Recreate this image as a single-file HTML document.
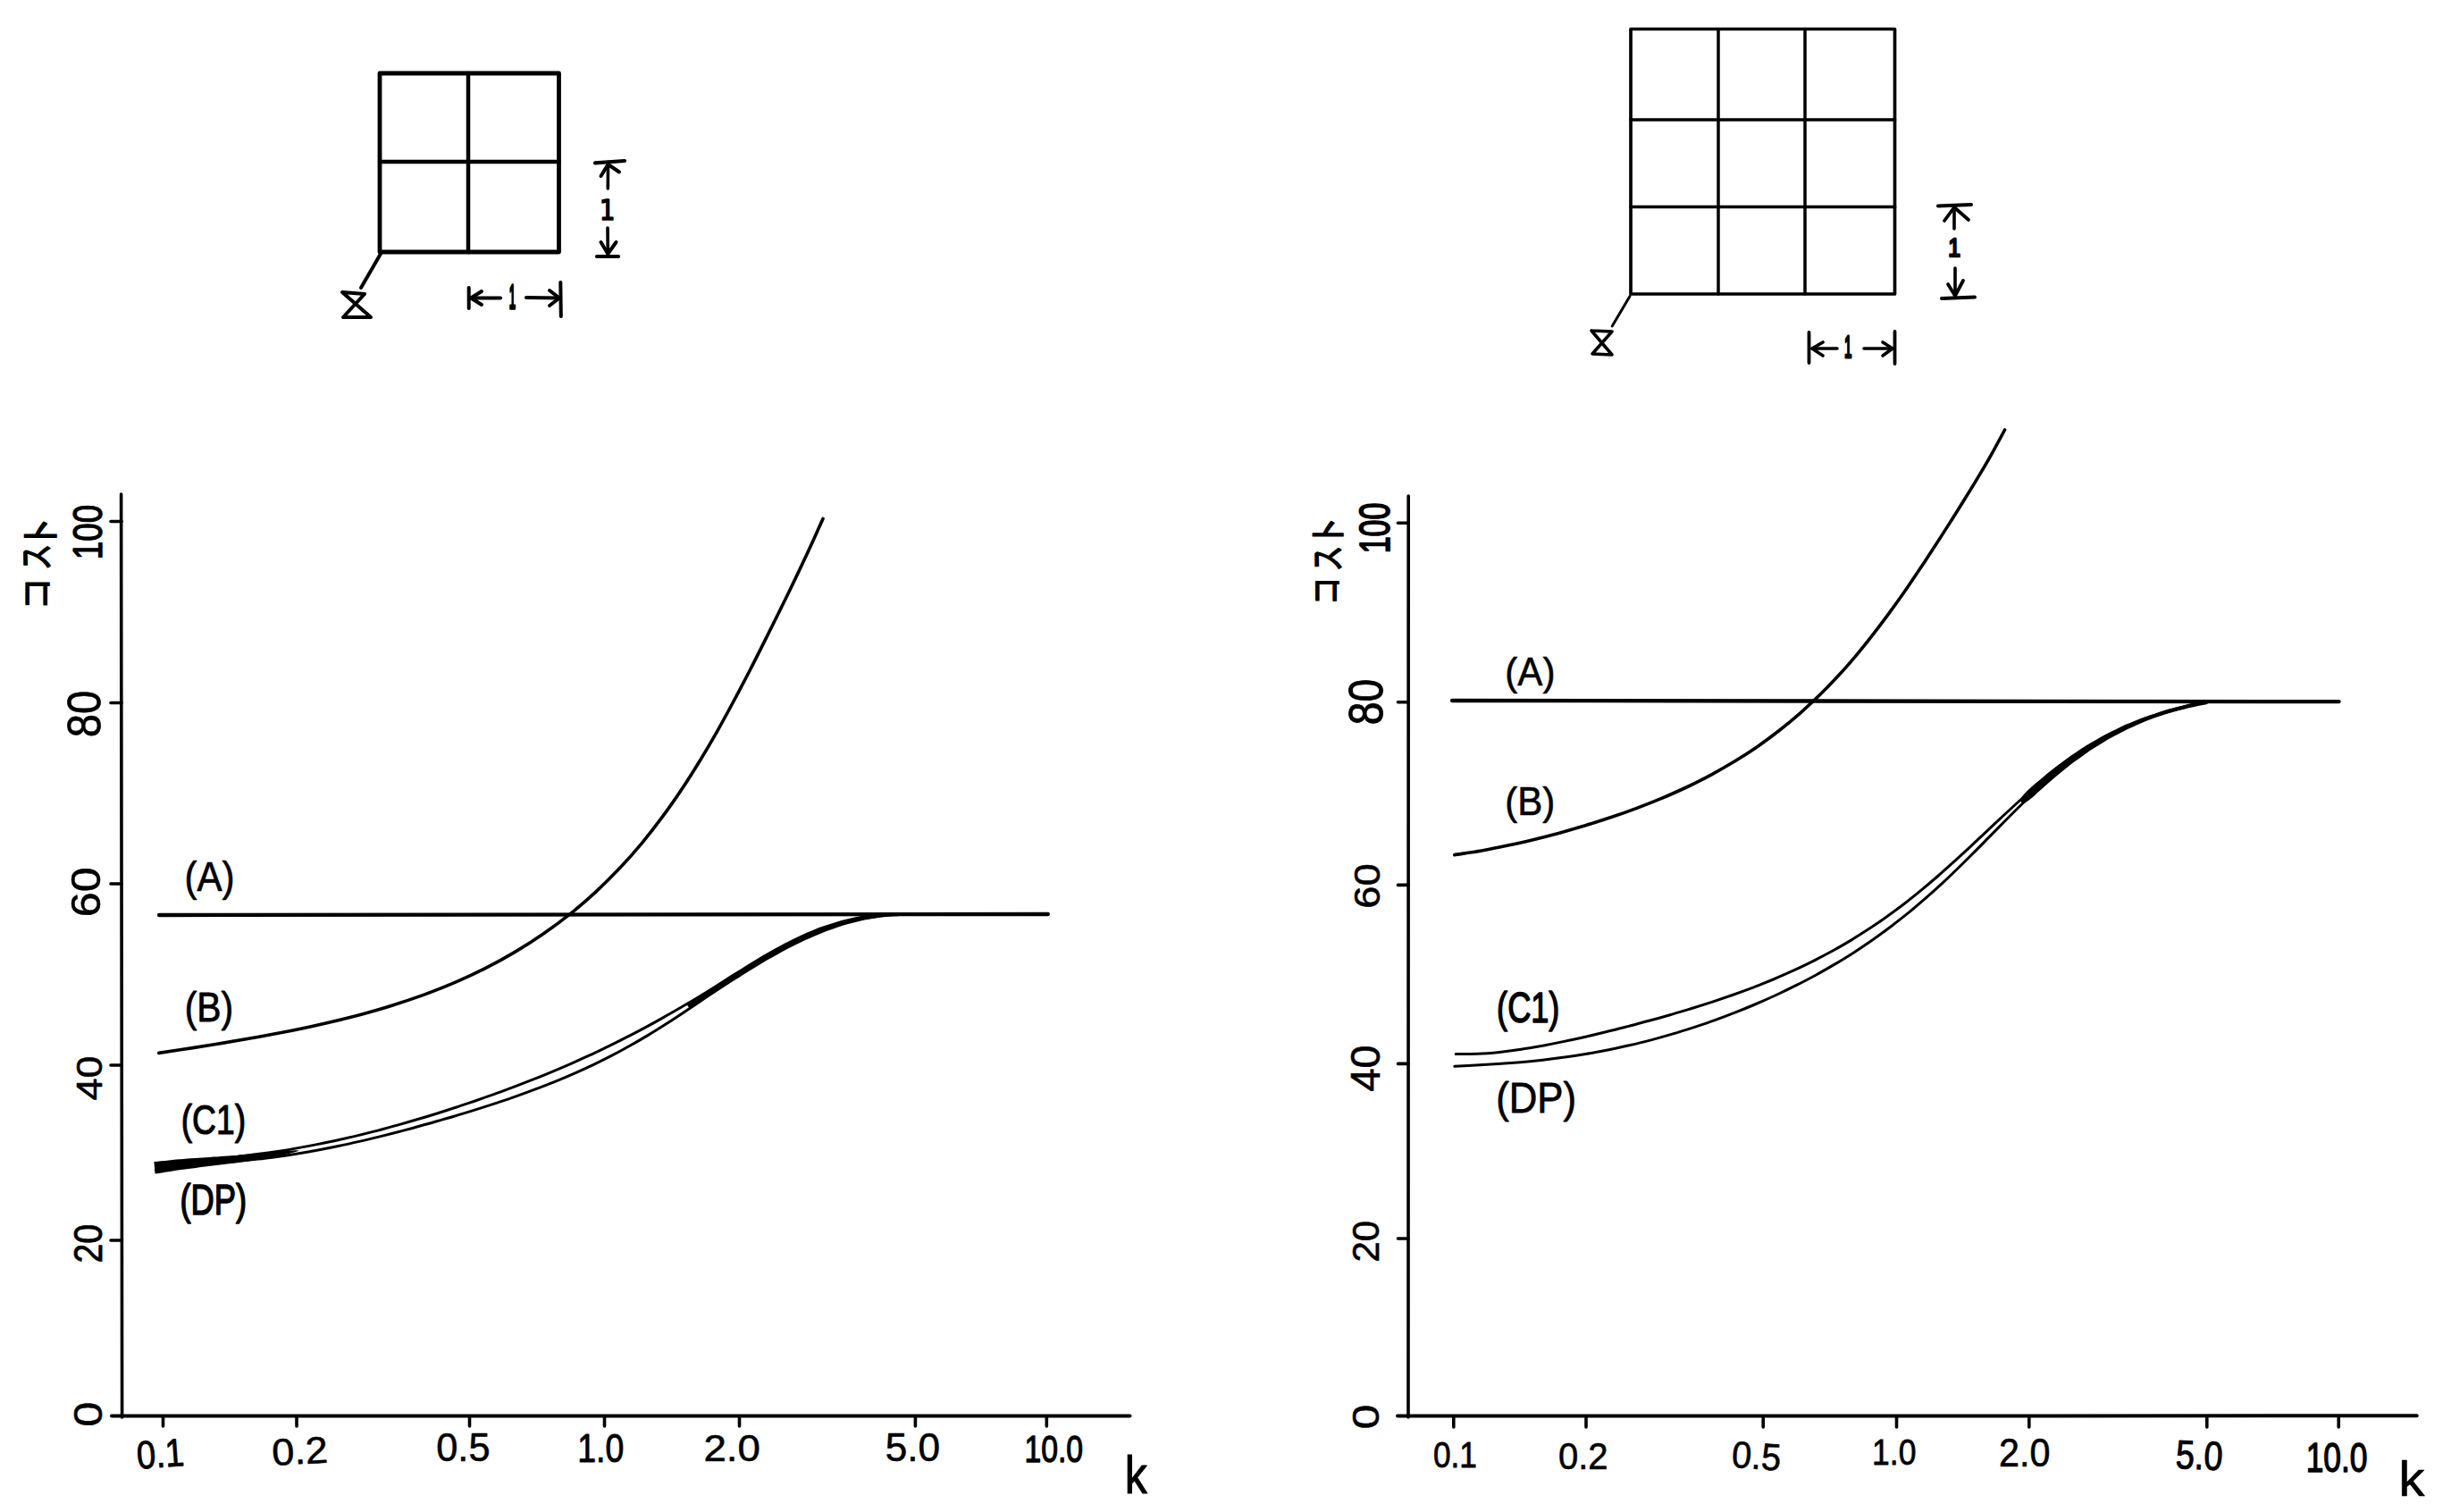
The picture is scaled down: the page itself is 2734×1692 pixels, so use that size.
<!DOCTYPE html>
<html><head><meta charset="utf-8"><title>コスト - k</title>
<style>html,body{margin:0;padding:0;background:#fff}svg{display:block}text{fill:#000}</style>
</head><body>
<svg width="2734" height="1692" viewBox="0 0 2734 1692">
<rect width="2734" height="1692" fill="#fff"/>
<g fill="none" stroke="#000" stroke-linecap="round" stroke-linejoin="round">
<path d="M425.0 82.0 H625.5 V282.0 H425.0 Z" stroke-width="4.8"/>
<path d="M524.0 82.0 L524.0 282.0" stroke-width="4.5"/>
<path d="M425.0 181.0 L625.5 181.0" stroke-width="4.5"/>
<path d="M426.0 284.0 L404.0 322.0" stroke-width="4"/>
<path d="M383.0 327.0 L408.0 329.0 L384.0 355.0 L415.0 355.0 L383.0 327.0" stroke-width="4"/>
<path d="M524.7 322.0 L524.7 345.0" stroke-width="4"/>
<path d="M627.3 316.0 L627.8 354.0" stroke-width="4"/>
<path d="M527.0 333.5 L560.0 333.5" stroke-width="4"/>
<path d="M589.0 333.0 L626.0 333.5" stroke-width="4"/>
<path d="M539.0 326.0 L527.0 333.5 L539.0 341.0" stroke-width="4"/>
<path d="M615.0 325.0 L626.0 333.5 L615.0 342.0" stroke-width="4"/>
<path d="M666.0 182.3 L699.0 180.0" stroke-width="4.2"/>
<path d="M668.0 287.0 L692.0 287.0" stroke-width="4.2"/>
<path d="M680.5 183.0 L680.3 211.0" stroke-width="3.6"/>
<path d="M680.0 255.0 L680.3 286.0" stroke-width="3.6"/>
<path d="M672.5 197.0 L680.5 184.0 L693.0 192.5" stroke-width="4"/>
<path d="M672.5 271.0 L680.3 284.0 L689.5 271.0" stroke-width="4"/>
<path d="M1825.0 32.5 H2120.5 V329.0 H1825.0 Z" stroke-width="3.7"/>
<path d="M1923.0 32.5 L1923.0 329.0" stroke-width="3.5"/>
<path d="M2020.0 32.5 L2020.0 329.0" stroke-width="3.5"/>
<path d="M1825.0 134.0 L2120.5 134.0" stroke-width="3.7"/>
<path d="M1825.0 231.5 L2120.5 231.5" stroke-width="3.7"/>
<path d="M1824.0 331.5 L1804.2 365.0" stroke-width="3"/>
<path d="M1781.0 370.0 L1804.0 371.0 L1782.0 396.0 L1804.0 397.0 L1781.0 370.0" stroke-width="3.6"/>
<path d="M2024.5 372.0 L2024.5 406.0" stroke-width="3.8"/>
<path d="M2120.5 371.0 L2120.5 407.0" stroke-width="3.8"/>
<path d="M2028.0 390.0 L2056.0 390.0" stroke-width="3.6"/>
<path d="M2086.0 390.0 L2118.0 390.0" stroke-width="3.6"/>
<path d="M2040.0 383.0 L2028.0 390.0 L2040.0 398.0" stroke-width="3.6"/>
<path d="M2107.0 383.0 L2118.0 390.0 L2107.0 398.0" stroke-width="3.6"/>
<path d="M2169.0 230.5 L2206.0 229.0" stroke-width="4"/>
<path d="M2173.0 334.0 L2210.0 332.5" stroke-width="4"/>
<path d="M2187.0 232.0 L2187.0 256.0" stroke-width="3.6"/>
<path d="M2188.0 300.0 L2188.0 332.0" stroke-width="3.6"/>
<path d="M2176.0 247.0 L2187.0 232.0 L2203.0 246.0" stroke-width="3.8"/>
<path d="M2180.0 318.0 L2188.0 331.0 L2197.0 314.0" stroke-width="3.8"/>
<path d="M135.6 553.0 L136.6 1586.0" stroke-width="3.6"/>
<path d="M125.0 1584.5 L1264.5 1584.5" stroke-width="4"/>
<path d="M124.0 583.5 L136.0 583.5" stroke-width="3.6"/>
<path d="M124.0 786.5 L136.0 786.5" stroke-width="3.6"/>
<path d="M124.0 989.0 L136.0 989.0" stroke-width="3.6"/>
<path d="M124.0 1192.0 L136.0 1192.0" stroke-width="3.6"/>
<path d="M124.0 1388.0 L136.0 1388.0" stroke-width="3.6"/>
<path d="M182.5 1585.0 L182.5 1596.0" stroke-width="3.6"/>
<path d="M332.0 1585.0 L332.0 1596.0" stroke-width="3.6"/>
<path d="M525.5 1585.0 L525.5 1596.0" stroke-width="3.6"/>
<path d="M676.5 1585.0 L676.5 1596.0" stroke-width="3.6"/>
<path d="M827.5 1585.0 L827.5 1596.0" stroke-width="3.6"/>
<path d="M1024.4 1585.0 L1024.4 1596.0" stroke-width="3.6"/>
<path d="M1171.3 1585.0 L1171.3 1596.0" stroke-width="3.6"/>
<path d="M178.0 1024.0 L1172.8 1023.0" stroke-width="4.3"/>
<path d="M177.8 1178.4 C184.1 1177.4 203.2 1174.6 215.7 1172.6 C228.2 1170.7 240.5 1168.7 252.9 1166.6 C265.2 1164.5 277.5 1162.4 289.8 1160.2 C302.1 1157.9 314.4 1155.6 326.7 1153.2 C339.0 1150.7 351.4 1148.1 363.6 1145.2 C375.9 1142.4 388.2 1139.4 400.5 1136.2 C412.7 1132.9 424.9 1129.5 437.0 1125.7 C449.2 1121.9 461.2 1117.9 473.2 1113.6 C485.1 1109.2 496.9 1104.6 508.6 1099.6 C520.2 1094.6 531.7 1089.3 543.0 1083.6 C554.3 1077.9 565.4 1071.9 576.2 1065.4 C587.1 1059.0 597.7 1052.3 608.0 1045.1 C618.3 1038.0 628.4 1030.5 638.2 1022.7 C648.0 1014.8 657.5 1006.6 666.7 998.1 C675.9 989.6 684.9 980.7 693.5 971.6 C702.1 962.4 710.4 953.0 718.5 943.3 C726.5 933.6 734.3 923.6 741.8 913.4 C749.3 903.3 756.5 892.9 763.6 882.3 C770.6 871.8 777.3 861.0 783.9 850.2 C790.5 839.4 796.9 828.4 803.2 817.3 C809.4 806.3 815.5 795.2 821.4 784.0 C827.4 772.9 833.2 761.7 839.0 750.5 C844.8 739.3 850.4 728.1 856.0 716.9 C861.7 705.6 867.2 694.4 872.7 683.2 C878.3 671.9 883.7 660.7 889.2 649.4 C894.6 638.1 900.0 626.8 905.3 615.3 C910.6 603.8 918.4 586.2 921.0 580.4" stroke-width="3.6" />
<path d="M174.4 1303.9 C178.1 1303.5 188.9 1302.2 196.3 1301.4 C203.7 1300.7 211.3 1300.0 218.9 1299.2 C226.5 1298.5 234.2 1297.8 241.8 1297.0 C249.5 1296.2 257.2 1295.4 264.9 1294.5 C272.5 1293.6 280.2 1292.7 287.9 1291.6 C295.5 1290.6 303.2 1289.5 310.8 1288.4 C318.4 1287.2 326.0 1286.0 333.5 1284.6 C341.1 1283.3 348.6 1281.9 356.1 1280.4 C363.6 1278.9 371.0 1277.4 378.4 1275.7 C385.9 1274.1 393.3 1272.4 400.6 1270.6 C408.0 1268.8 415.4 1267.0 422.7 1265.1 C430.1 1263.1 437.4 1261.2 444.7 1259.1 C452.0 1257.1 459.3 1255.0 466.6 1252.8 C473.8 1250.7 481.1 1248.5 488.3 1246.2 C495.6 1243.9 502.8 1241.6 510.1 1239.2 C517.3 1236.9 524.5 1234.4 531.7 1232.0 C538.9 1229.5 546.1 1226.9 553.3 1224.4 C560.5 1221.8 567.6 1219.1 574.8 1216.4 C581.9 1213.7 589.0 1211.0 596.1 1208.2 C603.2 1205.4 610.3 1202.5 617.3 1199.6 C624.4 1196.6 631.4 1193.6 638.4 1190.6 C645.4 1187.5 652.3 1184.4 659.2 1181.2 C666.2 1178.0 673.0 1174.7 679.9 1171.4 C686.7 1168.1 693.6 1164.7 700.3 1161.2 C707.1 1157.7 713.9 1154.2 720.6 1150.6 C727.3 1147.0 734.0 1143.4 740.6 1139.6 C747.2 1135.9 753.8 1132.2 760.4 1128.3 C767.0 1124.5 773.6 1120.7 780.1 1116.8 C786.7 1112.9 793.2 1108.9 799.8 1105.0 C806.3 1101.1 812.8 1097.1 819.4 1093.2 C825.9 1089.3 832.4 1085.3 839.0 1081.5 C845.6 1077.6 852.2 1073.8 858.8 1070.1 C865.5 1066.4 872.1 1062.7 878.9 1059.2 C885.6 1055.7 892.4 1052.3 899.3 1049.1 C906.2 1045.9 913.2 1042.8 920.2 1040.1 C927.2 1037.3 934.4 1034.8 941.6 1032.6 C948.9 1030.4 956.2 1028.4 963.6 1026.9 C971.1 1025.4 978.6 1024.2 986.3 1023.6 C993.9 1022.9 1005.6 1023.1 1009.5 1023.0" stroke-width="3" />
<path d="M174.4 1309.6 C178.0 1309.0 188.6 1307.1 196.0 1306.1 C203.3 1305.1 210.9 1304.4 218.6 1303.6 C226.2 1302.9 234.0 1302.2 241.7 1301.6 C249.5 1300.9 257.3 1300.2 265.1 1299.5 C272.9 1298.7 280.7 1297.9 288.4 1297.1 C296.2 1296.2 303.9 1295.2 311.6 1294.2 C319.2 1293.1 326.9 1292.0 334.5 1290.8 C342.1 1289.5 349.6 1288.2 357.2 1286.8 C364.7 1285.4 372.2 1283.9 379.6 1282.3 C387.1 1280.8 394.5 1279.1 401.9 1277.4 C409.4 1275.7 416.8 1273.9 424.1 1272.1 C431.5 1270.3 438.9 1268.4 446.3 1266.5 C453.6 1264.5 461.0 1262.6 468.3 1260.5 C475.7 1258.5 483.1 1256.5 490.4 1254.3 C497.7 1252.2 505.1 1250.1 512.4 1247.9 C519.8 1245.7 527.1 1243.4 534.4 1241.1 C541.7 1238.8 549.0 1236.5 556.3 1234.1 C563.6 1231.6 570.9 1229.2 578.1 1226.6 C585.4 1224.1 592.6 1221.4 599.8 1218.7 C607.0 1216.0 614.1 1213.2 621.2 1210.4 C628.3 1207.5 635.4 1204.5 642.4 1201.4 C649.4 1198.3 656.4 1195.2 663.3 1191.9 C670.2 1188.6 677.0 1185.2 683.8 1181.7 C690.6 1178.2 697.3 1174.6 703.9 1170.8 C710.6 1167.1 717.2 1163.3 723.7 1159.4 C730.3 1155.4 736.8 1151.4 743.2 1147.3 C749.7 1143.2 756.1 1139.0 762.5 1134.7 C768.8 1130.5 775.2 1126.2 781.5 1121.9 C787.8 1117.5 794.1 1113.1 800.4 1108.8 C806.8 1104.4 813.1 1100.0 819.4 1095.8 C825.8 1091.5 832.1 1087.2 838.6 1083.0 C845.0 1078.9 851.5 1074.8 858.1 1070.8 C864.6 1066.9 871.3 1063.1 878.0 1059.5 C884.7 1055.9 891.6 1052.5 898.5 1049.3 C905.4 1046.2 912.5 1043.2 919.7 1040.6 C926.8 1037.9 934.1 1035.5 941.5 1033.5 C948.8 1031.4 956.3 1029.6 963.9 1028.1 C971.4 1026.7 979.1 1025.5 986.7 1024.7 C994.3 1023.8 1005.7 1023.3 1009.5 1023.0" stroke-width="3" />
<path d="M173.6 1313.5 L177.9 1313.0 L182.2 1312.3 L186.3 1311.6 L190.5 1310.9 L194.6 1310.2 L198.6 1309.6 L202.7 1309.0 L206.8 1308.5 L211.0 1307.9 L215.1 1307.4 L219.2 1306.9 L223.3 1306.3 L227.5 1305.8 L231.6 1305.3 L235.8 1304.8 L239.9 1304.3 L244.1 1303.8 L248.2 1303.3 L252.4 1302.7 L256.5 1302.2 L260.7 1301.7 L264.8 1301.2 L269.0 1300.6 L273.1 1300.0 L277.3 1299.5 L281.4 1298.9 L285.6 1298.2 L289.7 1297.6 L293.9 1296.9 L298.0 1296.2 L302.2 1295.4 L306.3 1294.7 L310.4 1293.9 L314.6 1293.0 L318.7 1292.1 L322.8 1291.2 L326.9 1290.1 L331.0 1289.1 L335.0 1287.5 L335.0 1287.5 L330.7 1287.3 L326.5 1287.5 L322.3 1287.8 L318.1 1288.2 L313.9 1288.5 L309.7 1288.9 L305.6 1289.3 L301.4 1289.6 L297.2 1290.0 L293.0 1290.4 L288.9 1290.8 L284.7 1291.1 L280.6 1291.4 L276.4 1291.8 L272.2 1292.1 L268.1 1292.5 L263.9 1292.9 L259.8 1293.2 L255.6 1293.5 L251.5 1293.8 L247.3 1294.1 L243.2 1294.4 L239.0 1294.6 L234.8 1294.9 L230.7 1295.2 L226.5 1295.4 L222.3 1295.7 L218.2 1296.0 L214.0 1296.3 L209.8 1296.6 L205.6 1296.9 L201.5 1297.3 L197.2 1297.6 L193.0 1298.0 L188.8 1298.4 L184.6 1298.9 L180.4 1299.3 L176.4 1299.8 L172.4 1300.0 Z" fill="#000" stroke="none"/>
<path d="M771.9 1129.1 L778.0 1125.2 L784.2 1121.3 L790.4 1117.3 L796.5 1113.4 L802.7 1109.4 L808.8 1105.4 L815.0 1101.5 L821.1 1097.5 L827.3 1093.7 L833.4 1089.8 L839.5 1085.9 L845.7 1082.2 L851.8 1078.5 L857.9 1074.8 L864.0 1071.4 L870.2 1067.9 L876.3 1064.5 L882.4 1061.3 L888.5 1058.3 L894.6 1055.2 L900.7 1052.3 L906.7 1049.7 L912.9 1047.1 L919.0 1044.5 L925.0 1042.1 L931.0 1040.0 L937.1 1037.8 L943.1 1035.7 L949.2 1034.1 L955.3 1032.5 L961.3 1030.9 L967.4 1029.6 L973.4 1028.5 L979.6 1027.5 L985.6 1026.5 L991.7 1026.0 L997.8 1025.6 L1003.9 1025.2 L1010.1 1024.8 L1009.9 1021.3 L1003.8 1021.4 L997.6 1021.6 L991.4 1021.8 L985.1 1022.1 L978.9 1022.9 L972.7 1023.7 L966.5 1024.6 L960.2 1025.7 L954.0 1027.1 L947.8 1028.5 L941.5 1030.0 L935.2 1031.9 L929.0 1033.9 L922.7 1035.9 L916.4 1038.1 L910.2 1040.7 L904.0 1043.3 L897.8 1045.9 L891.5 1049.0 L885.4 1052.0 L879.2 1055.1 L872.9 1058.4 L866.8 1061.8 L860.6 1065.3 L854.4 1068.8 L848.2 1072.5 L842.0 1076.2 L835.9 1080.0 L829.7 1083.9 L823.5 1087.7 L817.3 1091.6 L811.2 1095.6 L805.0 1099.6 L798.9 1103.5 L792.7 1107.5 L786.6 1111.5 L780.4 1115.4 L774.3 1119.3 L768.1 1123.2 Z" fill="#000" stroke="none"/>
<path d="M1576.2 555.0 L1576.0 1586.0" stroke-width="3.6"/>
<path d="M1564.0 1584.6 L2704.7 1584.3" stroke-width="4"/>
<path d="M1564.5 585.2 L1576.0 585.2" stroke-width="3.6"/>
<path d="M1564.5 785.8 L1576.0 785.8" stroke-width="3.6"/>
<path d="M1564.5 990.4 L1576.0 990.4" stroke-width="3.6"/>
<path d="M1564.5 1190.4 L1576.0 1190.4" stroke-width="3.6"/>
<path d="M1564.5 1386.0 L1576.0 1386.0" stroke-width="3.6"/>
<path d="M1626.8 1585.0 L1626.8 1597.0" stroke-width="3.6"/>
<path d="M1775.0 1585.0 L1775.0 1597.0" stroke-width="3.6"/>
<path d="M1973.2 1585.0 L1973.2 1597.0" stroke-width="3.6"/>
<path d="M2122.5 1585.0 L2122.5 1597.0" stroke-width="3.6"/>
<path d="M2270.8 1585.0 L2270.8 1597.0" stroke-width="3.6"/>
<path d="M2469.8 1585.0 L2469.8 1597.0" stroke-width="3.6"/>
<path d="M2617.2 1585.0 L2617.2 1597.0" stroke-width="3.6"/>
<path d="M1625.0 784.0 L2617.5 785.2" stroke-width="4.3"/>
<path d="M1627.8 956.6 C1632.8 955.8 1648.0 953.7 1658.0 952.0 C1667.9 950.2 1677.7 948.2 1687.6 946.1 C1697.4 944.1 1707.1 941.8 1716.8 939.4 C1726.6 937.0 1736.3 934.5 1746.0 931.9 C1755.6 929.2 1765.3 926.4 1775.0 923.5 C1784.6 920.6 1794.2 917.5 1803.8 914.3 C1813.4 911.1 1823.0 907.7 1832.4 904.1 C1841.9 900.6 1851.3 896.8 1860.7 892.9 C1870.0 889.0 1879.2 884.8 1888.4 880.5 C1897.5 876.1 1906.5 871.6 1915.4 866.8 C1924.3 862.0 1933.0 857.0 1941.6 851.8 C1950.2 846.5 1958.6 841.1 1966.9 835.4 C1975.1 829.6 1983.2 823.7 1991.1 817.5 C1999.0 811.3 2006.7 804.9 2014.3 798.3 C2021.8 791.7 2029.2 784.8 2036.4 777.8 C2043.5 770.8 2050.5 763.5 2057.4 756.1 C2064.2 748.7 2070.8 741.1 2077.4 733.3 C2083.9 725.6 2090.2 717.7 2096.4 709.7 C2102.6 701.7 2108.7 693.6 2114.7 685.4 C2120.6 677.3 2126.5 669.0 2132.3 660.7 C2138.0 652.3 2143.7 644.0 2149.3 635.6 C2154.9 627.2 2160.4 618.7 2165.9 610.3 C2171.4 601.9 2176.8 593.4 2182.2 584.9 C2187.5 576.5 2192.9 568.0 2198.1 559.5 C2203.4 551.0 2208.7 542.5 2213.8 533.9 C2219.0 525.3 2224.1 516.7 2229.0 507.9 C2234.0 499.0 2241.2 485.5 2243.6 481.0" stroke-width="3.6" />
<path d="M1629.2 1179.5 C1633.3 1179.5 1645.5 1179.6 1653.6 1179.3 C1661.7 1178.9 1669.9 1178.2 1678.0 1177.4 C1686.1 1176.5 1694.2 1175.4 1702.3 1174.2 C1710.4 1173.0 1718.4 1171.6 1726.5 1170.2 C1734.5 1168.7 1742.5 1167.1 1750.5 1165.4 C1758.5 1163.8 1766.4 1162.0 1774.4 1160.2 C1782.3 1158.4 1790.2 1156.5 1798.1 1154.5 C1806.1 1152.6 1813.9 1150.6 1821.8 1148.6 C1829.7 1146.5 1837.6 1144.5 1845.4 1142.3 C1853.3 1140.2 1861.1 1138.0 1868.9 1135.7 C1876.8 1133.5 1884.6 1131.1 1892.4 1128.8 C1900.1 1126.4 1907.9 1123.9 1915.7 1121.4 C1923.4 1118.8 1931.1 1116.2 1938.8 1113.5 C1946.5 1110.8 1954.1 1108.0 1961.8 1105.1 C1969.4 1102.1 1976.9 1099.1 1984.5 1096.0 C1992.0 1092.8 1999.4 1089.6 2006.8 1086.2 C2014.2 1082.8 2021.6 1079.3 2028.9 1075.6 C2036.1 1072.0 2043.3 1068.2 2050.5 1064.3 C2057.6 1060.3 2064.6 1056.3 2071.6 1052.1 C2078.6 1047.9 2085.4 1043.5 2092.2 1039.1 C2099.0 1034.6 2105.7 1030.0 2112.3 1025.2 C2119.0 1020.5 2125.5 1015.6 2131.9 1010.7 C2138.4 1005.7 2144.7 1000.6 2151.0 995.4 C2157.3 990.2 2163.5 984.9 2169.7 979.5 C2175.8 974.2 2181.9 968.7 2188.0 963.2 C2194.0 957.7 2200.0 952.1 2206.0 946.6 C2211.9 941.0 2217.9 935.4 2223.8 929.8 C2229.8 924.2 2235.7 918.6 2241.7 913.0 C2247.6 907.5 2253.6 902.0 2259.6 896.5 C2265.7 891.1 2271.8 885.7 2277.9 880.5 C2284.1 875.2 2290.3 870.0 2296.7 865.0 C2303.1 860.0 2309.5 855.1 2316.1 850.5 C2322.7 845.8 2329.4 841.3 2336.3 837.0 C2343.2 832.7 2350.2 828.5 2357.3 824.7 C2364.5 820.8 2371.8 817.2 2379.2 813.8 C2386.7 810.4 2394.3 807.2 2402.0 804.3 C2409.7 801.5 2417.5 798.8 2425.4 796.5 C2433.2 794.1 2441.2 792.0 2449.1 790.1 C2457.0 788.2 2468.9 786.0 2472.8 785.2" stroke-width="3" />
<path d="M1627.8 1193.3 C1631.8 1193.1 1643.6 1192.5 1651.7 1192.0 C1659.8 1191.6 1668.1 1191.1 1676.4 1190.6 C1684.7 1190.0 1693.0 1189.4 1701.4 1188.7 C1709.7 1188.0 1718.1 1187.2 1726.4 1186.2 C1734.7 1185.3 1743.0 1184.3 1751.3 1183.1 C1759.6 1182.0 1767.8 1180.7 1776.0 1179.3 C1784.2 1177.9 1792.3 1176.4 1800.5 1174.8 C1808.6 1173.1 1816.6 1171.4 1824.6 1169.5 C1832.7 1167.7 1840.6 1165.7 1848.6 1163.6 C1856.5 1161.5 1864.4 1159.2 1872.3 1156.9 C1880.2 1154.6 1888.0 1152.1 1895.8 1149.6 C1903.6 1147.0 1911.4 1144.4 1919.1 1141.6 C1926.9 1138.8 1934.6 1135.9 1942.2 1132.9 C1949.9 1129.9 1957.5 1126.8 1965.1 1123.5 C1972.7 1120.3 1980.2 1117.0 1987.7 1113.5 C1995.2 1110.0 2002.7 1106.4 2010.0 1102.7 C2017.4 1099.0 2024.7 1095.1 2032.0 1091.2 C2039.3 1087.2 2046.4 1083.1 2053.6 1078.9 C2060.7 1074.7 2067.7 1070.3 2074.7 1065.9 C2081.6 1061.4 2088.5 1056.8 2095.3 1052.0 C2102.0 1047.3 2108.7 1042.4 2115.3 1037.5 C2121.9 1032.5 2128.4 1027.4 2134.9 1022.2 C2141.3 1016.9 2147.6 1011.6 2153.8 1006.2 C2160.1 1000.7 2166.2 995.2 2172.3 989.6 C2178.4 984.0 2184.4 978.3 2190.3 972.5 C2196.3 966.7 2202.1 960.9 2208.0 955.0 C2213.9 949.2 2219.6 943.3 2225.4 937.4 C2231.3 931.5 2237.0 925.6 2242.8 919.7 C2248.6 913.8 2254.4 908.0 2260.3 902.2 C2266.2 896.4 2272.1 890.7 2278.1 885.1 C2284.1 879.5 2290.1 874.0 2296.3 868.7 C2302.5 863.3 2308.8 858.1 2315.3 853.1 C2321.8 848.1 2328.4 843.3 2335.1 838.7 C2341.9 834.2 2348.8 829.8 2355.9 825.7 C2363.1 821.6 2370.3 817.8 2377.8 814.2 C2385.3 810.7 2392.9 807.4 2400.7 804.4 C2408.4 801.4 2416.4 798.8 2424.4 796.4 C2432.4 794.0 2440.6 791.9 2448.6 790.0 C2456.7 788.2 2468.8 786.0 2472.8 785.2" stroke-width="3" />
<path d="M2264.0 899.7 L2270.2 895.7 L2275.9 891.2 L2281.1 886.3 L2286.3 881.7 L2291.6 877.0 L2296.8 872.4 L2302.0 868.0 L2307.3 863.7 L2312.5 859.5 L2317.7 855.3 L2322.9 851.5 L2328.2 847.7 L2333.4 843.9 L2338.6 840.3 L2343.8 837.0 L2349.1 833.7 L2354.3 830.4 L2359.5 827.3 L2364.7 824.5 L2370.0 821.7 L2375.3 818.9 L2380.5 816.2 L2385.7 813.9 L2391.0 811.5 L2396.3 809.2 L2401.5 806.9 L2406.7 805.0 L2412.1 803.1 L2417.4 801.3 L2422.7 799.5 L2427.9 797.9 L2433.2 796.5 L2438.6 795.1 L2443.9 793.7 L2449.2 792.3 L2454.5 791.2 L2459.8 790.1 L2465.1 789.1 L2470.4 788.0 L2469.6 783.6 L2464.2 784.7 L2458.9 785.7 L2453.5 786.8 L2448.2 787.9 L2442.8 789.4 L2437.4 790.8 L2432.1 792.2 L2426.7 793.6 L2421.3 795.2 L2415.9 797.1 L2410.6 798.9 L2405.3 800.6 L2399.8 802.4 L2394.4 804.6 L2389.0 806.8 L2383.6 808.9 L2378.2 811.1 L2372.7 813.7 L2367.3 816.4 L2361.9 819.0 L2356.5 821.7 L2351.0 824.7 L2345.6 827.9 L2340.2 831.0 L2334.7 834.2 L2329.2 837.8 L2323.8 841.5 L2318.4 845.1 L2312.9 848.9 L2307.5 853.0 L2302.1 857.1 L2296.6 861.3 L2291.2 865.6 L2285.7 870.2 L2280.3 874.7 L2274.9 879.3 L2269.4 884.2 L2264.4 889.4 L2260.0 895.3 Z" fill="#000" stroke="none"/>
</g>
<g>
<text transform="translate(569.8 344.7) scale(0.356 1)" font-size="36.8" font-family='"Liberation Sans", "IPAGothic", sans-serif' stroke="#000" stroke-width="2.60" stroke-linejoin="round" vector-effect="non-scaling-stroke">1</text>
<text transform="translate(671.1 245.8) scale(0.868 1)" font-size="31.5" font-family='"DejaVu Sans", sans-serif' stroke="#000" stroke-width="1.60" stroke-linejoin="round" vector-effect="non-scaling-stroke">1</text>
<text transform="translate(2064.1 399.8) scale(0.444 1)" font-size="34.2" font-family='"Liberation Sans", "IPAGothic", sans-serif' stroke="#000" stroke-width="2.40" stroke-linejoin="round" vector-effect="non-scaling-stroke">1</text>
<text transform="translate(2180.2 286.9) scale(0.824 1)" font-size="30.1" font-family='"Liberation Sans", "IPAGothic", sans-serif' stroke="#000" stroke-width="2.20" stroke-linejoin="round" vector-effect="non-scaling-stroke">1</text>
<text transform="translate(114.0 626.2) rotate(-90) scale(0.797 1)" font-size="46.2" font-family='"Liberation Sans", "IPAGothic", sans-serif' stroke="#000" stroke-width="1.17" stroke-linejoin="round" vector-effect="non-scaling-stroke">100</text>
<text transform="translate(112.1 825.3) rotate(-90) scale(0.914 1)" font-size="51.8" font-family='"Liberation Sans", "IPAGothic", sans-serif' stroke="#000" stroke-width="0.70" stroke-linejoin="round" vector-effect="non-scaling-stroke">80</text>
<text transform="translate(112.2 1026.2) rotate(-90) scale(1.082 1)" font-size="46.3" font-family='"Liberation Sans", "IPAGothic", sans-serif' stroke="#000" stroke-width="0.60" stroke-linejoin="round" vector-effect="non-scaling-stroke">60</text>
<text transform="translate(113.8 1231.6) rotate(-90) scale(1.085 1)" font-size="41.4" font-family='"Liberation Sans", "IPAGothic", sans-serif' stroke="#000" stroke-width="0.60" stroke-linejoin="round" vector-effect="non-scaling-stroke">40</text>
<text transform="translate(113.7 1413.6) rotate(-90) scale(0.892 1)" font-size="44.0" font-family='"Liberation Sans", "IPAGothic", sans-serif' stroke="#000" stroke-width="0.73" stroke-linejoin="round" vector-effect="non-scaling-stroke">20</text>
<text transform="translate(113.8 1596.7) rotate(-90) scale(1.149 1)" font-size="44.2" font-family='"Liberation Sans", "IPAGothic", sans-serif' stroke="#000" stroke-width="0.60" stroke-linejoin="round" vector-effect="non-scaling-stroke">0</text>
<text transform="translate(62.0 614.6) rotate(-90) scale(0.851 1)" font-size="44.0" font-family='"Liberation Sans", "IPAGothic", sans-serif' stroke="#000" stroke-width="1.40" stroke-linejoin="round" vector-effect="non-scaling-stroke">ト</text>
<text transform="translate(55.9 638.1) rotate(-90) scale(0.716 1)" font-size="41.7" font-family='"Liberation Sans", "IPAGothic", sans-serif' stroke="#000" stroke-width="1.40" stroke-linejoin="round" vector-effect="non-scaling-stroke">ス</text>
<text transform="translate(55.7 682.9) rotate(-90) scale(0.939 1)" font-size="41.3" font-family='"Liberation Sans", "IPAGothic", sans-serif' stroke="#000" stroke-width="1.40" stroke-linejoin="round" vector-effect="non-scaling-stroke">コ</text>
<text transform="rotate(-4 179.3 1626.8) translate(152.9 1641.9) scale(0.869 1)" font-size="43.9" font-family='"Liberation Sans", "IPAGothic", sans-serif' stroke="#000" stroke-width="0.84" stroke-linejoin="round" vector-effect="non-scaling-stroke">0.1</text>
<text transform="rotate(-3 335.4 1623.8) translate(304.2 1638.3) scale(1.072 1)" font-size="42.1" font-family='"Liberation Sans", "IPAGothic", sans-serif' stroke="#000" stroke-width="0.60" stroke-linejoin="round" vector-effect="non-scaling-stroke">0.2</text>
<text transform="translate(488.3 1635.3) scale(0.995 1)" font-size="43.5" font-family='"Liberation Sans", "IPAGothic", sans-serif' stroke="#000" stroke-width="0.60" stroke-linejoin="round" vector-effect="non-scaling-stroke">0.5</text>
<text transform="translate(646.3 1636.1) scale(0.853 1)" font-size="43.8" font-family='"Liberation Sans", "IPAGothic", sans-serif' stroke="#000" stroke-width="0.90" stroke-linejoin="round" vector-effect="non-scaling-stroke">1.0</text>
<text transform="translate(787.4 1635.3) scale(1.077 1)" font-size="42.4" font-family='"Liberation Sans", "IPAGothic", sans-serif' stroke="#000" stroke-width="0.60" stroke-linejoin="round" vector-effect="non-scaling-stroke">2.0</text>
<text transform="translate(990.8 1635.3) scale(1.015 1)" font-size="43.5" font-family='"Liberation Sans", "IPAGothic", sans-serif' stroke="#000" stroke-width="0.60" stroke-linejoin="round" vector-effect="non-scaling-stroke">5.0</text>
<text transform="translate(1146.4 1636.4) scale(0.792 1)" font-size="42.6" font-family='"Liberation Sans", "IPAGothic", sans-serif' stroke="#000" stroke-width="1.14" stroke-linejoin="round" vector-effect="non-scaling-stroke">10.0</text>
<text transform="translate(1258.8 1671.3) scale(0.840 1)" font-size="59.8" font-family='"Liberation Sans", "IPAGothic", sans-serif' stroke="#000" stroke-width="1.03" stroke-linejoin="round" vector-effect="non-scaling-stroke">k</text>
<text transform="translate(206.5 996.9) scale(0.908 1)" font-size="46.3" font-family='"Liberation Sans", "IPAGothic", sans-serif' stroke="#000" stroke-width="0.68" stroke-linejoin="round" vector-effect="non-scaling-stroke">(A)</text>
<text transform="translate(206.7 1143.2) scale(0.876 1)" font-size="46.6" font-family='"Liberation Sans", "IPAGothic", sans-serif' stroke="#000" stroke-width="0.81" stroke-linejoin="round" vector-effect="non-scaling-stroke">(B)</text>
<text transform="translate(202.7 1269.2) scale(0.802 1)" font-size="46.4" font-family='"Liberation Sans", "IPAGothic", sans-serif' stroke="#000" stroke-width="1.13" stroke-linejoin="round" vector-effect="non-scaling-stroke">(C1)</text>
<text transform="translate(201.5 1358.8) scale(0.741 1)" font-size="49.0" font-family='"Liberation Sans", "IPAGothic", sans-serif' stroke="#000" stroke-width="1.45" stroke-linejoin="round" vector-effect="non-scaling-stroke">(DP)</text>
<text transform="translate(1554.9 619.3) rotate(-90) scale(0.703 1)" font-size="48.3" font-family='"Liberation Sans", "IPAGothic", sans-serif' stroke="#000" stroke-width="1.62" stroke-linejoin="round" vector-effect="non-scaling-stroke">100</text>
<text transform="translate(1546.6 811.2) rotate(-90) scale(0.872 1)" font-size="53.1" font-family='"Liberation Sans", "IPAGothic", sans-serif' stroke="#000" stroke-width="0.91" stroke-linejoin="round" vector-effect="non-scaling-stroke">80</text>
<text transform="translate(1544.0 1016.8) rotate(-90) scale(1.097 1)" font-size="41.5" font-family='"Liberation Sans", "IPAGothic", sans-serif' stroke="#000" stroke-width="0.60" stroke-linejoin="round" vector-effect="non-scaling-stroke">60</text>
<text transform="translate(1543.9 1221.6) rotate(-90) scale(1.026 1)" font-size="45.6" font-family='"Liberation Sans", "IPAGothic", sans-serif' stroke="#000" stroke-width="0.60" stroke-linejoin="round" vector-effect="non-scaling-stroke">40</text>
<text transform="translate(1542.8 1412.6) rotate(-90) scale(0.994 1)" font-size="42.4" font-family='"Liberation Sans", "IPAGothic", sans-serif' stroke="#000" stroke-width="0.60" stroke-linejoin="round" vector-effect="non-scaling-stroke">20</text>
<text transform="translate(1542.8 1599.5) rotate(-90) scale(1.189 1)" font-size="42.4" font-family='"Liberation Sans", "IPAGothic", sans-serif' stroke="#000" stroke-width="0.60" stroke-linejoin="round" vector-effect="non-scaling-stroke">0</text>
<text transform="translate(1502.2 612.8) rotate(-90) scale(0.865 1)" font-size="41.7" font-family='"Liberation Sans", "IPAGothic", sans-serif' stroke="#000" stroke-width="1.40" stroke-linejoin="round" vector-effect="non-scaling-stroke">ト</text>
<text transform="translate(1501.4 639.3) rotate(-90) scale(0.705 1)" font-size="41.3" font-family='"Liberation Sans", "IPAGothic", sans-serif' stroke="#000" stroke-width="1.40" stroke-linejoin="round" vector-effect="non-scaling-stroke">ス</text>
<text transform="translate(1499.1 677.4) rotate(-90) scale(0.832 1)" font-size="40.6" font-family='"Liberation Sans", "IPAGothic", sans-serif' stroke="#000" stroke-width="1.40" stroke-linejoin="round" vector-effect="non-scaling-stroke">コ</text>
<text transform="translate(1603.9 1642.3) scale(0.884 1)" font-size="39.9" font-family='"Liberation Sans", "IPAGothic", sans-serif' stroke="#000" stroke-width="0.74" stroke-linejoin="round" vector-effect="non-scaling-stroke">0.1</text>
<text transform="translate(1743.9 1643.9) scale(0.947 1)" font-size="42.3" font-family='"Liberation Sans", "IPAGothic", sans-serif' stroke="#000" stroke-width="0.60" stroke-linejoin="round" vector-effect="non-scaling-stroke">0.2</text>
<text transform="rotate(4 1965.9 1629.2) translate(1938.3 1643.8) scale(0.943 1)" font-size="42.1" font-family='"Liberation Sans", "IPAGothic", sans-serif' stroke="#000" stroke-width="0.60" stroke-linejoin="round" vector-effect="non-scaling-stroke">0.5</text>
<text transform="translate(2095.1 1639.4) scale(0.884 1)" font-size="40.1" font-family='"Liberation Sans", "IPAGothic", sans-serif' stroke="#000" stroke-width="0.73" stroke-linejoin="round" vector-effect="non-scaling-stroke">1.0</text>
<text transform="translate(2237.1 1640.6) scale(0.923 1)" font-size="44.7" font-family='"Liberation Sans", "IPAGothic", sans-serif' stroke="#000" stroke-width="0.63" stroke-linejoin="round" vector-effect="non-scaling-stroke">2.0</text>
<text transform="rotate(3 2461.3 1628.5) translate(2435.0 1644.1) scale(0.838 1)" font-size="45.1" font-family='"Liberation Sans", "IPAGothic", sans-serif' stroke="#000" stroke-width="0.97" stroke-linejoin="round" vector-effect="non-scaling-stroke">5.0</text>
<text transform="translate(2580.7 1646.9) scale(0.772 1)" font-size="45.8" font-family='"Liberation Sans", "IPAGothic", sans-serif' stroke="#000" stroke-width="1.28" stroke-linejoin="round" vector-effect="non-scaling-stroke">10.0</text>
<text transform="translate(2684.3 1673.6) scale(1.035 1)" font-size="56.4" font-family='"Liberation Sans", "IPAGothic", sans-serif' stroke="#000" stroke-width="0.60" stroke-linejoin="round" vector-effect="non-scaling-stroke">k</text>
<text transform="translate(1684.3 767.1) scale(0.961 1)" font-size="43.9" font-family='"Liberation Sans", "IPAGothic", sans-serif' stroke="#000" stroke-width="0.60" stroke-linejoin="round" vector-effect="non-scaling-stroke">(A)</text>
<text transform="translate(1684.3 911.8) scale(0.930 1)" font-size="45.2" font-family='"Liberation Sans", "IPAGothic", sans-serif' stroke="#000" stroke-width="0.60" stroke-linejoin="round" vector-effect="non-scaling-stroke">(B)</text>
<text transform="translate(1675.1 1144.2) scale(0.739 1)" font-size="48.9" font-family='"Liberation Sans", "IPAGothic", sans-serif' stroke="#000" stroke-width="1.45" stroke-linejoin="round" vector-effect="non-scaling-stroke">(C1)</text>
<text transform="translate(1674.2 1244.9) scale(0.907 1)" font-size="48.2" font-family='"Liberation Sans", "IPAGothic", sans-serif' stroke="#000" stroke-width="0.72" stroke-linejoin="round" vector-effect="non-scaling-stroke">(DP)</text>
</g>
</svg>
</body></html>
